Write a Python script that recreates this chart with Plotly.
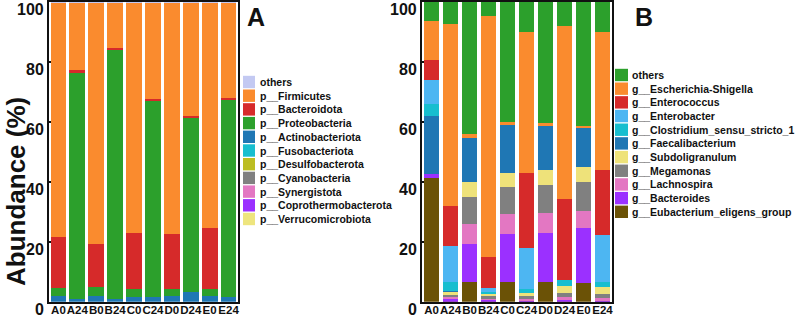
import plotly.graph_objects as go

W, H = 797, 321

samples = ["A0", "A24", "B0", "B24", "C0", "C24", "D0", "D24", "E0", "E24"]

# ---------------- Panel A : phylum level (%), legend order (top of stack first)
phyla = ["others", "p__Firmicutes", "p__Bacteroidota", "p__Proteobacteria",
         "p__Actinobacteriota", "p__Fusobacteriota", "p__Desulfobacterota",
         "p__Cyanobacteria", "p__Synergistota", "p__Coprothermobacterota",
         "p__Verrucomicrobiota"]
ph_others = [0.1, 0.1, 0.1, 0.1, 0.1, 0.1, 0.1, 0.1, 0.1, 0.1]
ph_firmicutes = [78.4, 22.8, 80.7, 15.4, 76.9, 32.4, 77.3, 37.9, 75.2, 31.9]
ph_bacteroidota = [17.0, 0.5, 14.4, 0.3, 18.8, 0.5, 18.5, 0.5, 20.5, 0.5]
ph_proteobacteria = [2.5, 75.8, 2.8, 83.4, 2.5, 65.5, 2.2, 58.2, 2.3, 66.0]
ph_actinobacteriota = [2.0, 0.8, 2.0, 0.8, 1.7, 1.5, 1.9, 3.3, 1.9, 1.5]
ph_fusobacteriota = [0, 0, 0, 0, 0, 0, 0, 0, 0, 0]
ph_desulfobacterota = [0, 0, 0, 0, 0, 0, 0, 0, 0, 0]
ph_cyanobacteria = [0, 0, 0, 0, 0, 0, 0, 0, 0, 0]
ph_synergistota = [0, 0, 0, 0, 0, 0, 0, 0, 0, 0]
ph_coprothermobacterota = [0, 0, 0, 0, 0, 0, 0, 0, 0, 0]
ph_verrucomicrobiota = [0, 0, 0, 0, 0, 0, 0, 0, 0, 0]
phylum_values = [ph_others, ph_firmicutes, ph_bacteroidota, ph_proteobacteria,
                 ph_actinobacteriota, ph_fusobacteriota, ph_desulfobacterota,
                 ph_cyanobacteria, ph_synergistota, ph_coprothermobacterota,
                 ph_verrucomicrobiota]
phylum_colors = ["#C3C9F2", "#FA8B2E", "#D62A2A", "#2CA02C", "#1F77B4", "#17BECF",
                 "#BCBD22", "#808080", "#E377C2", "#9B30FF", "#EEE57E"]

# ---------------- Panel B : genus level (%), legend order
genera = ["others", "g__Escherichia-Shigella", "g__Enterococcus", "g__Enterobacter",
          "g__Clostridium_sensu_stricto_1", "g__Faecalibacterium", "g__Subdoligranulum",
          "g__Megamonas", "g__Lachnospira", "g__Bacteroides", "g__Eubacterium_eligens_group"]
g_others = [6.3, 7.4, 44.2, 4.8, 40.0, 10.0, 40.5, 8.1, 41.3, 10.0]
g_escherichia = [13.1, 60.6, 1.1, 80.2, 1.1, 47.0, 0.9, 57.7, 0.9, 46.1]
g_enterococcus = [6.7, 13.3, 0, 10.3, 0, 25.2, 0, 27.0, 0, 21.7]
g_enterobacter = [8.1, 12.0, 0, 1.6, 0, 13.7, 0, 0, 0, 15.7]
g_clostridium = [3.8, 3.0, 0, 0.3, 0, 1.1, 0, 2.0, 0, 1.7]
g_faecalibacterium = [19.4, 0.2, 14.7, 0, 16.1, 0, 14.7, 0, 13.0, 0]
g_subdoligranulum = [0, 1.3, 5.2, 1.0, 4.5, 1.2, 5.0, 2.4, 4.8, 2.3]
g_megamonas = [0, 0.7, 8.9, 0.6, 9.1, 0.6, 9.4, 1.4, 9.7, 1.3]
g_lachnospira = [0, 0.7, 6.7, 0.7, 6.6, 0.6, 6.7, 0.7, 5.8, 0.6]
g_bacteroides = [1.5, 0.6, 12.5, 0.3, 16.2, 0.4, 16.1, 0.5, 18.4, 0.4]
g_eubacterium = [41.1, 0.2, 6.7, 0.2, 6.4, 0.2, 6.7, 0.2, 6.1, 0.2]
genus_values = [g_others, g_escherichia, g_enterococcus, g_enterobacter, g_clostridium,
                g_faecalibacterium, g_subdoligranulum, g_megamonas, g_lachnospira,
                g_bacteroides, g_eubacterium]
genus_colors = ["#2CA02C", "#FA8B2E", "#D62A2A", "#4DB6F2", "#17BECF", "#1F77B4",
                "#EEE27A", "#808080", "#E377C2", "#9B30FF", "#6B5206"]

yticks = [0, 20, 40, 60, 80, 100]

FONT = "Arial, Liberation Sans, sans-serif"

fig = go.Figure()

# stack: last legend entry at the bottom
for name, vals, col in reversed(list(zip(phyla, phylum_values, phylum_colors))):
    fig.add_trace(go.Bar(x=samples, y=vals, name=name, marker_color=col,
                         marker_line_width=0, showlegend=False,
                         xaxis="x", yaxis="y"))
for name, vals, col in reversed(list(zip(genera, genus_values, genus_colors))):
    fig.add_trace(go.Bar(x=samples, y=vals, name=name, marker_color=col,
                         marker_line_width=0, showlegend=False,
                         xaxis="x2", yaxis="y2"))

def px_x(p):
    return p / W

def px_y(p):
    return 1 - p / H

y_dom = [px_y(301.7), px_y(1.7)]

axis_common = dict(showline=True, linecolor="#111", linewidth=1.5, mirror=True,
                   showgrid=False, zeroline=False)

xcommon = dict(axis_common, tickfont=dict(family=FONT, size=11.5, color="#111", weight="bold"),
               ticks="", tickangle=0, ticklabelstandoff=-3)
ycommon = dict(axis_common, range=[0, 100], tickvals=yticks, ticks="inside", ticklen=2,
               tickwidth=1.5, tickcolor="#111", showticklabels=False)

fig.update_layout(
    width=W, height=H, margin=dict(l=0, r=0, t=0, b=0),
    paper_bgcolor="white", plot_bgcolor="white",
    barmode="stack", bargap=0.16,
    xaxis=dict(xcommon, domain=[px_x(49), px_x(238)], anchor="y"),
    yaxis=dict(ycommon, domain=y_dom, anchor="x"),
    xaxis2=dict(xcommon, domain=[px_x(422), px_x(612)], anchor="y2"),
    yaxis2=dict(ycommon, domain=y_dom, anchor="x2"),
)

annotations = []
shapes = []

# y tick labels (sit just below their tick, as in the reference)
for xr, yr in (("x domain", "y"), ("x2 domain", "y2")):
    for v in yticks:
        annotations.append(dict(text="<b>%d</b>" % v, x=0, y=v, xref=xr, yref=yr,
                                xanchor="right", yanchor="middle", xshift=-3, yshift=-8,
                                showarrow=False,
                                font=dict(family=FONT, size=16, color="#111")))

# y-axis title
annotations.append(dict(text="<b>Abundance (%)</b>", x=px_x(16), y=px_y(192),
                        xref="paper", yref="paper", xanchor="center", yanchor="middle",
                        textangle=-90, showarrow=False,
                        font=dict(family=FONT, size=26, color="#111")))
# panel letters
annotations.append(dict(text="<b>A</b>", x=px_x(256), y=px_y(17), xref="paper",
                        yref="paper", xanchor="center", yanchor="middle", showarrow=False,
                        font=dict(family=FONT, size=25, color="#111")))
annotations.append(dict(text="<b>B</b>", x=px_x(644), y=px_y(17), xref="paper",
                        yref="paper", xanchor="center", yanchor="middle", showarrow=False,
                        font=dict(family=FONT, size=25, color="#111")))

def legend(names, colors, sx0, sx1, tx, y0, step):
    for i, (n, c) in enumerate(zip(names, colors)):
        yc = y0 + step * i
        shapes.append(dict(type="rect", xref="paper", yref="paper",
                           x0=px_x(sx0), x1=px_x(sx1),
                           y0=px_y(yc - 6.2), y1=px_y(yc + 6.2),
                           fillcolor=c, line=dict(width=0)))
        annotations.append(dict(text="<b>%s</b>" % n, x=px_x(tx), y=px_y(yc),
                                xref="paper", yref="paper", xanchor="left",
                                yanchor="middle", showarrow=False,
                                font=dict(family=FONT, size=10.5, color="#111")))

legend(phyla, phylum_colors, 243, 255, 258, 82, 13.7)
legend(genera, genus_colors, 615, 628, 630, 75, 13.68)

fig.update_layout(annotations=annotations, shapes=shapes)

fig.write_html("out.html")
